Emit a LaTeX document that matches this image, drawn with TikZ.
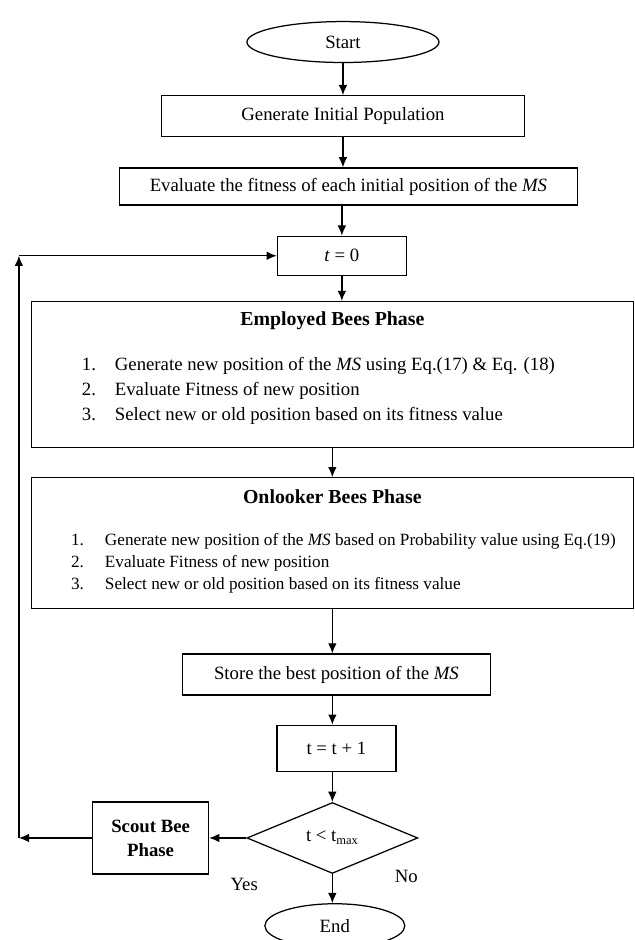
\documentclass[tikz,border=0pt]{standalone}
\usepackage{fontspec}
\setmainfont{Liberation Serif}
\usetikzlibrary{positioning, arrows.meta, shapes.geometric}

\begin{document}
\begin{tikzpicture}[
    node distance=19pt,
    font=\fontsize{12}{14.4}\selectfont,
    terminal/.style={
      ellipse, draw=black, line width=0.8pt,
      inner sep=0pt
    },
    process/.style={
      rectangle, draw=black, line width=0.8pt,
      align=center, inner sep=2pt
    },
    phase/.style={
      rectangle, draw=black, line width=0.8pt,
      minimum width=385.3pt
    },
    phasetitle/.style={
      font=\fontsize{12.7}{15}\selectfont\bfseries,
      inner sep=0pt
    },
    steplist/.style={
      inner sep=0pt, anchor=base west
    },
    decision/.style={
      diamond, draw=black, line width=0.8pt,
      inner sep=0pt, minimum width=109.4pt, minimum height=45.4pt
    },
    lbl/.style={inner sep=0pt},
    arr/.style={-{Latex[length=6.5pt,width=5.5pt]}, line width=0.8pt}
  ]
  \useasboundingbox (-219.5pt,26.9pt) rectangle (186.9pt,-574.7pt);
  % Start
  \node[terminal, minimum width=122.9pt, minimum height=26.2pt] (start) {Start};
  % Initial population
  \node[process, below=20.5pt of start, minimum width=232.3pt, minimum height=26.2pt] (gen) {Generate Initial Population};
  % Initial fitness
  \node[process, below=19.2pt of gen, xshift=3.5pt, minimum width=293.1pt, minimum height=23.7pt] (eval) {Evaluate the fitness of each initial position of the \textit{MS}};
  % Counter
  \node[process, below=19.2pt of eval, xshift=-4.2pt, minimum width=82.6pt, minimum height=25pt] (t0) {\textit{t} = 0};
  % Employed bees
  \node[phase, below=16pt of t0, xshift=-6.1pt, minimum height=93.4pt] (emp) {};
  \node[phasetitle] (empT) at ([yshift=-12.8pt]emp.north) {Employed Bees Phase};
  \node[steplist, font=\fontsize{12}{16}\selectfont] (empL) at ([xshift=32.6pt,yshift=-44.8pt]emp.north west) {\begin{tabular}[t]{@{}l@{\hspace{12.1pt}}l@{}}
    1. & Generate new position of the \textit{MS} using Eq.(17) \& Eq. (18)\\
    2. & Evaluate Fitness of new position\\
    3. & Select new or old position based on its fitness value
  \end{tabular}};
  % Onlooker bees
  \node[phase, below=18.6pt of emp, minimum height=83.8pt] (onl) {};
  \node[phasetitle] (onlT) at ([yshift=-12.2pt]onl.north) {Onlooker Bees Phase};
  \node[steplist, font=\fontsize{11}{14.1}\selectfont] (onlL) at ([xshift=25.6pt,yshift=-43.8pt]onl.north west) {\begin{tabular}[t]{@{}l@{\hspace{13.5pt}}l@{}}
    1. & Generate new position of the \textit{MS} based on Probability value using Eq.(19)\\
    2. & Evaluate Fitness of new position\\
    3. & Select new or old position based on its fitness value
  \end{tabular}};
  % Best position
  \node[process, below=28.2pt of onl, xshift=2.6pt, minimum width=197.1pt, minimum height=26.2pt] (store) {Store the best position of the \textit{MS}};
  % Increment
  \node[process, below=18.6pt of store, minimum width=76.2pt, minimum height=29.4pt] (inc) {t = t + 1};
  % Stop test
  \node[decision, below=19.2pt of inc, xshift=-2.6pt] (chk) {t < t\textsubscript{max}};
  % Scout bee
  \node[process, left=23.7pt of chk, font=\fontsize{12}{15.4}\selectfont\bfseries, minimum width=74.2pt, minimum height=46.1pt] (scout) {Scout Bee\\Phase};
  % End
  \node[terminal, below=18.6pt of chk, xshift=1.6pt, minimum width=89.6pt, minimum height=28.2pt] (end) {End};
  % Labels
  \node[lbl] (yes) at ([xshift=-1.3pt,yshift=-29.8pt]chk.west) {Yes};
  \node[lbl] (no) at ([xshift=-7.7pt,yshift=-24.6pt]chk.east) {No};
  % Loop rail
  \coordinate (rail) at (-207.4pt,0);
  \coordinate (loopB) at (rail |- scout.west);
  \coordinate (loopT) at (rail |- t0.west);
  % Main flow
  \draw[arr] (start) -- (gen);
  \draw[arr] (gen.south) -- (gen.south |- eval.north);
  \draw[arr] (t0.north |- eval.south) -- (t0.north);
  \draw[arr] (t0.south) -- (t0.south |- emp.north);
  \draw[arr] (emp) -- (onl);
  \draw[arr] (onl.south) -- (onl.south |- store.north);
  \draw[arr] (onl.south |- store.south) -- (onl.south |- inc.north);
  \draw[arr] (onl.south |- inc.south) -- (chk.north);
  \draw[arr] (chk.south) -- (chk.south |- end.north);
  % Loop back
  \draw[arr] (chk.west) -- (scout.east);
  \draw[arr] (scout.west) -- (loopB);
  \draw[arr] (loopB) -- (loopT);
  \draw[arr] (loopT) -- (t0.west);
\end{tikzpicture}
\end{document}
